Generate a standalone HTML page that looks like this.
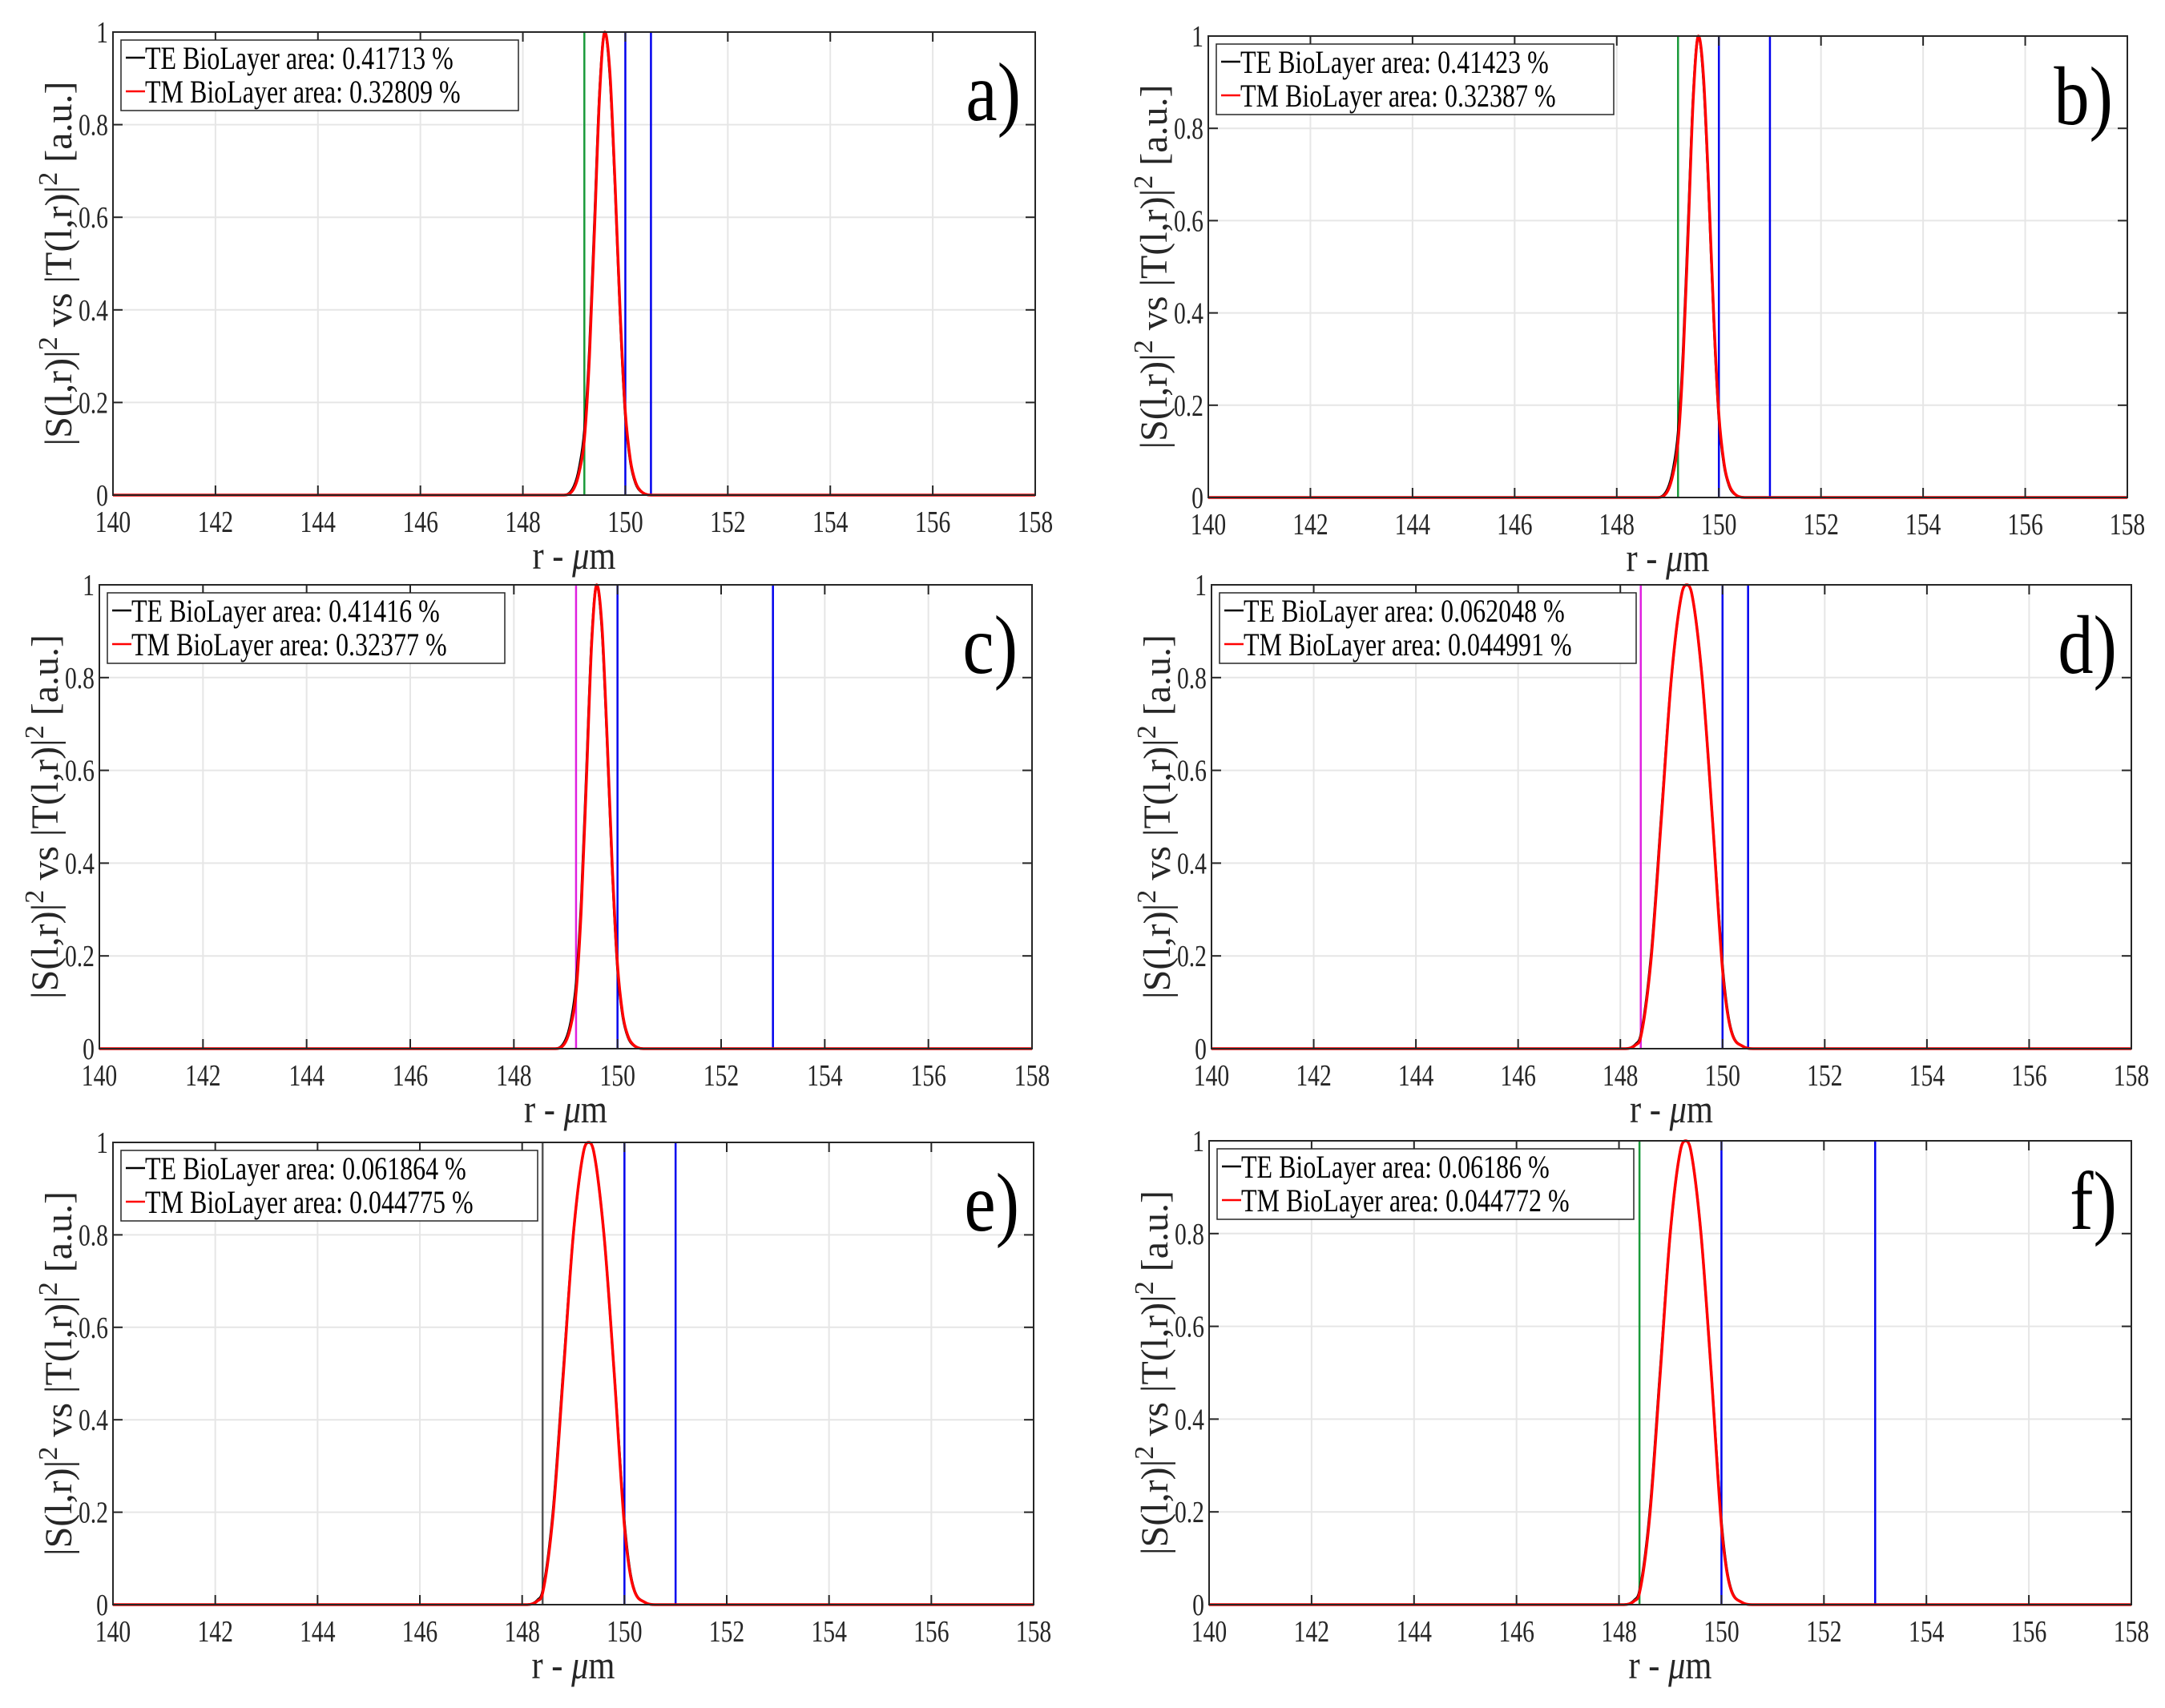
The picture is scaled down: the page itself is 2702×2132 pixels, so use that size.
<!DOCTYPE html>
<html><head><meta charset="utf-8"><style>
html,body{margin:0;padding:0;background:#fff;}
svg{display:block;}
text{font-family:"Liberation Serif",serif;}
</style></head><body>
<svg id="fig" width="2702" height="2132" viewBox="0 0 2702 2132" xmlns="http://www.w3.org/2000/svg"></svg>
<script>
const xTicks=[140,142,144,146,148,150,152,154,156,158];
const yTicks=[0,0.2,0.4,0.6,0.8,1];
const yTickLabels=["0","0.2","0.4","0.6","0.8","1"];
const panelLetters=["a)","b)","c)","d)","e)","f)"];
const teAreas=["0.41713","0.41423","0.41416","0.062048","0.061864","0.06186"];
const tmAreas=["0.32809","0.32387","0.32377","0.044991","0.044775","0.044772"];
const leftLines=[149.2,149.2,149.2,148.4,148.4,148.4];
const leftLineColors=["#1a9a3a","#1a9a3a","#e020e0","#e020e0","#555555","#1a9a3a"];
const rightLines=[150.5,151,153,150.5,151,153];
const midLines=[150,150,150,150,150,150];
const narrowX=[140,148.8,149.0,149.1,149.2,149.3,149.4,149.5,149.6,149.7,149.8,149.9,150.0,150.1,150.2,150.3,150.5,158];
const narrowTE=[0,0,0.02,0.06,0.14,0.32,0.6,0.88,1,0.9,0.66,0.38,0.17,0.07,0.025,0.008,0,0];
const narrowTM=[0,0,0.015,0.05,0.12,0.3,0.58,0.87,1,0.91,0.67,0.39,0.18,0.075,0.028,0.009,0,0];
const wideX=[140,148.1,148.3,148.4,148.6,148.8,149.0,149.2,149.3,149.4,149.6,149.8,150.0,150.1,150.2,150.4,150.6,158];
const wideTE=[0,0,0.01,0.03,0.2,0.5,0.8,0.98,1,0.98,0.8,0.5,0.18,0.08,0.03,0.005,0,0];
const wideTM=[0,0,0.008,0.025,0.19,0.49,0.8,0.98,1,0.98,0.8,0.5,0.17,0.075,0.028,0.005,0,0];
const panelShape=["narrow","narrow","narrow","wide","wide","wide"];

const boxes=[[141,40,1292,618],[1508,45,2655,621],[124,730,1288,1309],[1512,730,2660,1309],[141,1426,1290,2003],[1509,1424,2660,2003]];
const NS="http://www.w3.org/2000/svg";
const svg=document.getElementById('fig');
function mk(tag,attrs,parent){const e=document.createElementNS(NS,tag);for(const k in attrs)e.setAttribute(k,attrs[k]);(parent||svg).appendChild(e);return e;}
function ctext(parent,x,y,size,anchor,sxf,extra){
  return mk('text',Object.assign({x:0,y:0,'font-size':size,'text-anchor':anchor,fill:'#262626',transform:`translate(${x} ${y}) scale(${sxf} 1)`},extra||{}),parent);
}
// monotone cubic (Fritsch-Carlson) rendering of data points
function monoPath(xs,ys,sx,sy){
  const n=xs.length,d=[],m=new Array(n);
  for(let k=0;k<n-1;k++)d.push((ys[k+1]-ys[k])/(xs[k+1]-xs[k]));
  m[0]=d[0];m[n-1]=d[n-2];
  for(let k=1;k<n-1;k++){m[k]=(d[k-1]*d[k]<=0)?0:(d[k-1]+d[k])/2;}
  for(let k=0;k<n-1;k++){
    if(d[k]===0){m[k]=0;m[k+1]=0;continue;}
    const a=m[k]/d[k],b=m[k+1]/d[k],s=a*a+b*b;
    if(s>9){const t=3/Math.sqrt(s);m[k]=t*a*d[k];m[k+1]=t*b*d[k];}
  }
  let p='M'+sx(xs[0]).toFixed(1)+','+sy(ys[0]).toFixed(1);
  for(let k=0;k<n-1;k++){
    const h=xs[k+1]-xs[k];
    const c1x=xs[k]+h/3,c1y=ys[k]+m[k]*h/3,c2x=xs[k+1]-h/3,c2y=ys[k+1]-m[k+1]*h/3;
    p+=` C${sx(c1x).toFixed(1)},${sy(c1y).toFixed(1)} ${sx(c2x).toFixed(1)},${sy(c2y).toFixed(1)} ${sx(xs[k+1]).toFixed(1)},${sy(ys[k+1]).toFixed(1)}`;
  }
  return p;
}

boxes.forEach((b,i)=>{
  const [L,T,R,B]=b;
  const g=mk('g',{});
  
  
  const sx=v=>L+(v-140)/(158-140)*(R-L);
  const sy=v=>B-v*(B-T);
  xTicks.forEach(t=>{const l=mk('line',{x1:sx(t),x2:sx(t),y1:T,y2:B,stroke:'#e6e6e6','stroke-width':2},g);
    });
  yTicks.forEach(t=>{const l=mk('line',{x1:L,x2:R,y1:sy(t),y2:sy(t),stroke:'#e6e6e6','stroke-width':2},g);
    });
  const vl=(x,c,n)=>{const l=mk('line',{x1:sx(x),x2:sx(x),y1:T,y2:B,stroke:c,'stroke-width':2.5},g);
    };
  vl(leftLines[i],leftLineColors[i],'inner-boundary-line');
  vl(midLines[i],'#0000ee','ring-edge-line');
  vl(rightLines[i],'#0000ee','outer-boundary-line');
  const xs=panelShape[i]==='narrow'?narrowX:wideX;
  const te=panelShape[i]==='narrow'?narrowTE:wideTE;
  const tm=panelShape[i]==='narrow'?narrowTM:wideTM;
  const c1=mk('path',{d:monoPath(xs,te,sx,sy),fill:'none',stroke:'#000','stroke-width':3,'stroke-linejoin':'round'},g);
  
  const c2=mk('path',{d:monoPath(xs,tm,sx,sy),fill:'none',stroke:'#ff0000','stroke-width':3.5,'stroke-linejoin':'round'},g);
  
  const ax=mk('rect',{x:L,y:T,width:R-L,height:B-T,fill:'none',stroke:'#262626','stroke-width':2},g);
  
  xTicks.forEach(t=>{
    mk('line',{x1:sx(t),x2:sx(t),y1:B,y2:B-12,stroke:'#262626','stroke-width':2},g);
    mk('line',{x1:sx(t),x2:sx(t),y1:T,y2:T+12,stroke:'#262626','stroke-width':2},g);
    const tx=ctext(g,sx(t),B+46,38,'middle',0.78);
    tx.textContent=t;
    
  });
  yTicks.forEach((t,k)=>{
    mk('line',{x1:L,x2:L+12,y1:sy(t),y2:sy(t),stroke:'#262626','stroke-width':2},g);
    mk('line',{x1:R,x2:R-12,y1:sy(t),y2:sy(t),stroke:'#262626','stroke-width':2},g);
    const tx=ctext(g,L-6,sy(t)+13,38,'end',0.78);
    tx.textContent=yTickLabels[k];
    
  });
  const xl=ctext(g,(L+R)/2,B+92,50,'middle',0.85);
  xl.innerHTML='r - <tspan font-style="italic">μ</tspan>m';
  
  const cy=(T+B)/2, cx=L-52;
  const yl=mk('text',{x:cx,y:cy,'font-size':48,'text-anchor':'middle',fill:'#262626',transform:`rotate(-90 ${cx} ${cy})`},g);
  yl.innerHTML='|S(l,r)|<tspan dy="-18" font-size="34">2</tspan><tspan dy="18"> vs |T(l,r)|</tspan><tspan dy="-18" font-size="34">2</tspan><tspan dy="18"> [a.u.]</tspan>';
  
  const lw=Math.max(teAreas[i].length,tmAreas[i].length)>7?520:496;
  const lg=mk('g',{},g);
  
  mk('rect',{x:L+10,y:T+10,width:lw,height:88,fill:'#fff',stroke:'#262626','stroke-width':1.5},lg);
  mk('line',{x1:L+16,x2:L+40,y1:T+32,y2:T+32,stroke:'#000','stroke-width':2.5},lg);
  mk('line',{x1:L+16,x2:L+40,y1:T+74,y2:T+74,stroke:'#ff0000','stroke-width':2.5},lg);
  const e1=ctext(lg,L+40,T+46,40,'start',0.8,{fill:'#000'});
  e1.textContent='TE BioLayer area: '+teAreas[i]+' %';
  
  const e2=ctext(lg,L+40,T+88,40,'start',0.8,{fill:'#000'});
  e2.textContent='TM BioLayer area: '+tmAreas[i]+' %';
  
  const pl=ctext(g,R-18,T+110,104,'end',0.85,{fill:'#000'});
  pl.textContent=panelLetters[i];
  
});
</script>
</body></html>
